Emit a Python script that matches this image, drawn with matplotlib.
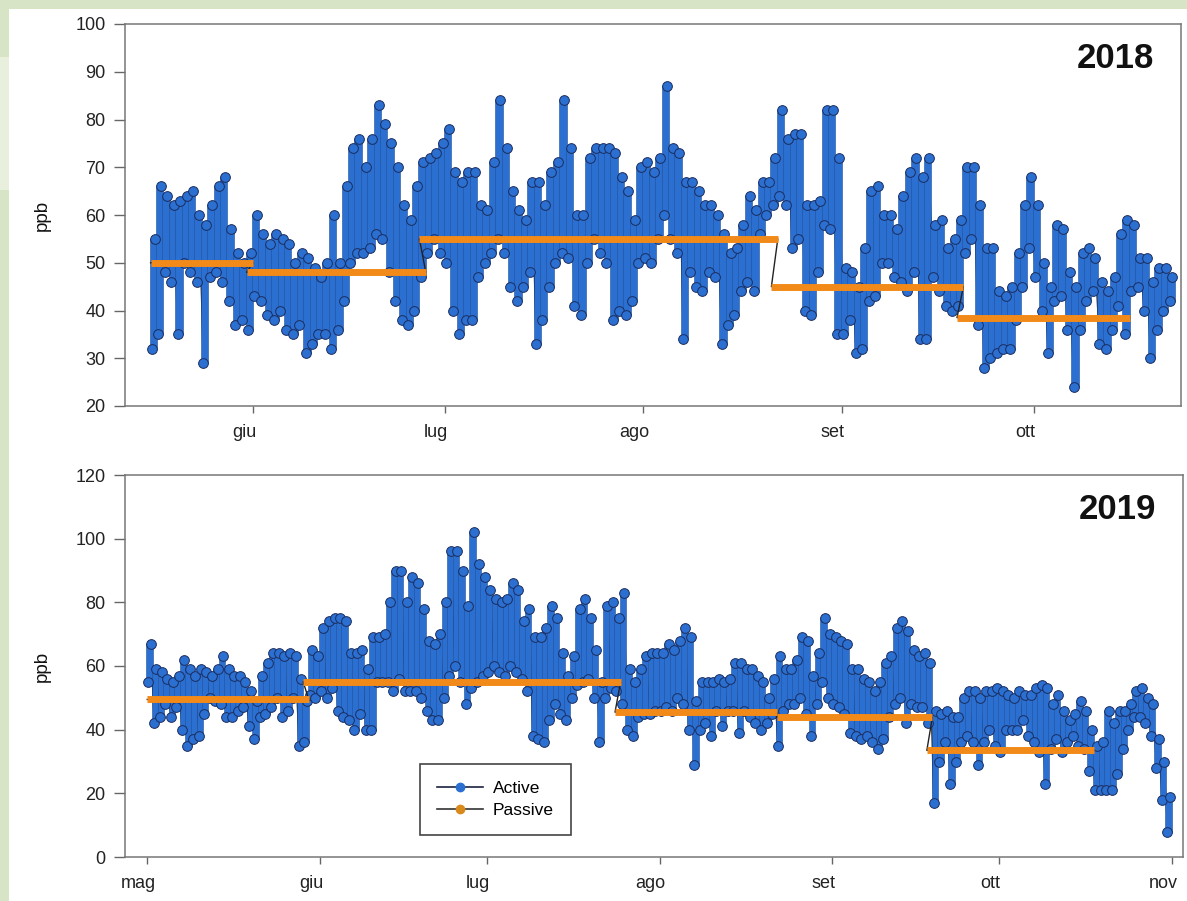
import numpy as np
import matplotlib
matplotlib.use("Agg")
import matplotlib.pyplot as plt
import matplotlib.dates as mdates
import matplotlib.transforms as mtransforms
from matplotlib.lines import Line2D
from matplotlib.patches import Rectangle

plt.rcParams['font.family'] = ['Liberation Sans', 'DejaVu Sans']

# Active sampler: daily minimum / maximum (ppb)
START_2018 = '2018-05-16'
max_2018 = [55, 66, 64, 62, 63, 64, 65, 60, 58, 62,
            66, 68, 57, 52, 50, 52, 60, 56, 54, 56,
            55, 54, 50, 52, 51, 49, 47, 50, 60, 50,
            66, 74, 76, 70, 76, 83, 79, 75, 70, 62,
            59, 66, 71, 72, 73, 75, 78, 69, 67, 69,
            69, 62, 61, 71, 84, 74, 65, 61, 59, 67,
            67, 62, 69, 71, 84, 74, 60, 60, 72, 74,
            74, 74, 73, 68, 65, 59, 70, 71, 69, 72,
            87, 74, 73, 67, 67, 65, 62, 62, 60, 56,
            52, 53, 58, 64, 61, 67, 67, 72, 82, 76,
            77, 77, 62, 62, 63, 82, 82, 72, 49, 48,
            45, 53, 65, 66, 60, 60, 57, 64, 69, 72,
            68, 72, 58, 59, 53, 55, 59, 70, 70, 62,
            53, 53, 44, 43, 45, 52, 62, 68, 62, 50,
            45, 58, 57, 48, 45, 52, 53, 51, 46, 44,
            47, 56, 59, 58, 51, 51, 46, 49, 49, 47]
min_2018 = [32, 35, 48, 46, 35, 50, 48, 46, 29, 47,
            48, 46, 42, 37, 38, 36, 43, 42, 39, 38,
            40, 36, 35, 37, 31, 33, 35, 35, 32, 36,
            42, 50, 52, 52, 53, 56, 55, 48, 42, 38,
            37, 40, 47, 52, 55, 52, 50, 40, 35, 38,
            38, 47, 50, 52, 55, 52, 45, 42, 45, 48,
            33, 38, 45, 50, 52, 51, 41, 39, 50, 55,
            52, 50, 38, 40, 39, 42, 50, 51, 50, 55,
            60, 55, 52, 34, 48, 45, 44, 48, 47, 33,
            37, 39, 44, 46, 44, 56, 60, 62, 64, 62,
            53, 55, 40, 39, 48, 58, 57, 35, 35, 38,
            31, 32, 42, 43, 50, 50, 47, 46, 44, 48,
            34, 34, 47, 44, 41, 40, 41, 52, 55, 37,
            28, 30, 31, 32, 32, 38, 45, 53, 47, 40,
            31, 42, 43, 36, 24, 36, 42, 44, 33, 32,
            36, 41, 35, 44, 45, 40, 30, 36, 40, 42]

START_2019 = '2019-05-01'
max_2019 = [67, 59, 58, 56, 55, 57, 62, 59, 57, 59,
            58, 57, 59, 63, 59, 57, 57, 55, 52, 49,
            57, 61, 64, 64, 63, 64, 63, 56, 49, 65,
            63, 72, 74, 75, 75, 74, 64, 64, 65, 59,
            69, 69, 70, 80, 90, 90, 80, 88, 86, 78,
            68, 67, 70, 80, 96, 96, 90, 79, 102, 92,
            88, 84, 81, 80, 81, 86, 84, 74, 78, 69,
            69, 72, 79, 75, 64, 57, 63, 78, 81, 75,
            65, 55, 79, 80, 75, 83, 59, 55, 59, 63,
            64, 64, 64, 67, 65, 68, 72, 69, 49, 55,
            55, 55, 56, 55, 56, 61, 61, 59, 59, 57,
            55, 50, 56, 63, 59, 59, 62, 69, 68, 57,
            64, 75, 70, 69, 68, 67, 59, 59, 56, 55,
            52, 55, 61, 63, 72, 74, 71, 65, 63, 64,
            61, 46, 45, 46, 44, 44, 50, 52, 52, 50,
            52, 52, 53, 52, 51, 50, 52, 51, 51, 53,
            54, 53, 48, 51, 46, 43, 45, 49, 46, 40,
            35, 36, 46, 42, 46, 46, 48, 52, 53, 50,
            48, 37, 30, 19]
min_2019 = [55, 42, 44, 48, 44, 47, 40, 35, 37, 38,
            45, 50, 49, 48, 44, 44, 46, 47, 41, 37,
            44, 45, 47, 50, 44, 46, 50, 35, 36, 51,
            50, 52, 50, 53, 46, 44, 43, 40, 45, 40,
            40, 55, 55, 55, 52, 56, 52, 52, 52, 50,
            46, 43, 43, 50, 57, 60, 55, 48, 53, 55,
            57, 58, 60, 58, 57, 60, 58, 56, 52, 38,
            37, 36, 43, 48, 45, 43, 50, 54, 55, 56,
            50, 36, 50, 53, 52, 48, 40, 38, 44, 45,
            45, 46, 46, 47, 46, 50, 48, 40, 29, 40,
            42, 38, 46, 41, 46, 46, 39, 46, 44, 42,
            40, 42, 45, 35, 46, 48, 48, 50, 45, 38,
            48, 55, 50, 48, 47, 45, 39, 38, 37, 38,
            36, 34, 37, 44, 48, 50, 42, 48, 47, 47,
            42, 17, 30, 36, 23, 30, 36, 38, 36, 29,
            36, 40, 35, 33, 40, 40, 40, 43, 38, 36,
            33, 23, 34, 37, 33, 36, 38, 35, 34, 27,
            21, 21, 21, 21, 26, 34, 40, 44, 44, 42,
            38, 28, 18, 8]

# Passive sampler: exposure periods and mean value (ppb)
passive_2018_start = ['2018-05-16', '2018-05-31', '2018-06-27', '2018-08-21', '2018-09-19']
passive_2018_end = ['2018-06-01', '2018-06-28', '2018-08-22', '2018-09-20', '2018-10-16']
passive_2018_val = [50, 48, 55, 45, 38.5]

passive_2019_start = ['2019-05-01', '2019-05-29', '2019-07-24', '2019-08-22', '2019-09-18']
passive_2019_end = ['2019-05-30', '2019-07-25', '2019-08-22', '2019-09-19', '2019-10-18']
passive_2019_val = [49.5, 55, 45.5, 44, 33.5]

month_labels = ['mag', 'giu', 'lug', 'ago', 'set', 'ott', 'nov']

BLUE = '#2b6fd1'
BLUE_EDGE = '#1b2d5e'
ORANGE = '#f28a1a'
GREEN_BG = '#d7e4c5'


def draw_panel(ax, start, mx, mn, p_start, p_end, p_val, year, ylim, yticks, xlim, months):
    mx = np.array(mx, dtype=float)
    mn = np.array(mn, dtype=float)
    day0 = mdates.date2num(np.datetime64(start))
    days = day0 + np.arange(len(mx))
    # night minimum (05h) then afternoon maximum (15h) for each day
    t = np.column_stack([days + 5 / 24, days + 15 / 24]).ravel()
    v = np.column_stack([mn, mx]).ravel()

    ax.plot(t, v, color='black', lw=0.9, zorder=1)
    # daily range covered by the hourly readings
    ax.bar(days + 10 / 24, mx - mn, bottom=mn, width=1.15, color=BLUE,
           edgecolor='#1f4f9a', linewidth=0.4, zorder=2)
    ax.plot(t, v, ls='none', marker='o', ms=7, mfc=BLUE, mec=BLUE_EDGE,
            mew=0.7, zorder=3)

    # passive: thin black connector + thick orange bands
    ps = mdates.date2num(np.array(p_start, dtype='datetime64[D]'))
    pe = mdates.date2num(np.array(p_end, dtype='datetime64[D]'))
    ax.plot(np.column_stack([ps, pe]).ravel(), np.repeat(p_val, 2),
            color='#222222', lw=1.0, zorder=4)
    ax.hlines(p_val, ps, pe, color=ORANGE, lw=5, zorder=5)

    ax.set_ylim(*ylim)
    ax.set_yticks(yticks)
    ax.set_xlim(mdates.date2num(np.datetime64(xlim[0])), mdates.date2num(np.datetime64(xlim[1])))
    tick_x = mdates.date2num(np.array(months[0], dtype='datetime64[D]'))
    ax.set_xticks(tick_x)
    ax.set_xticklabels([])
    # month names sit a little left of their tick, as in the original
    trans = mtransforms.blended_transform_factory(ax.transData, ax.transAxes) + \
        mtransforms.ScaledTranslation(-9 / 100, -18 / 100, ax.figure.dpi_scale_trans)
    for tx, lab in zip(tick_x, months[1]):
        ax.text(tx, 0, lab, transform=trans, ha='center', va='top',
                fontsize=13, color='#222222')
    ax.set_ylabel('ppb', fontsize=13.5, color='#111111')
    ax.yaxis.set_label_coords(-0.070, 0.5)
    ax.tick_params(axis='y', direction='out', length=8, width=1, color='#666666',
                   labelsize=13, labelcolor='#222222', pad=6)
    ax.tick_params(axis='x', direction='out', length=5, width=1, color='#666666')
    for sp in ax.spines.values():
        sp.set_color('#777777')
        sp.set_linewidth(1.1)
    ax.text(0.975, 0.91, year, transform=ax.transAxes, ha='right', va='center',
            fontsize=25, fontweight='bold', color='#111111')


fig = plt.figure(figsize=(11.87, 9.01), dpi=100)
fig.patch.set_facecolor(GREEN_BG)
fig.patches.append(Rectangle((9 / 1187, 0), 1, (901 - 9) / 901, transform=fig.transFigure,
                             facecolor='white', edgecolor='none', zorder=-5))
fig.patches.append(Rectangle((0, (901 - 190) / 901), 9 / 1187, 133 / 901, transform=fig.transFigure,
                             facecolor='#e8efdd', edgecolor='none', zorder=-5))

ax1 = fig.add_axes([125 / 1187, (901 - 406) / 901, (1181 - 125) / 1187, 382 / 901])
ax2 = fig.add_axes([125 / 1187, (901 - 857) / 901, (1183 - 125) / 1187, 382 / 901])

draw_panel(ax1, START_2018, max_2018, min_2018,
           passive_2018_start, passive_2018_end, passive_2018_val, '2018',
           (20, 100), range(20, 101, 10), ('2018-05-12', '2018-10-24'),
           (['2018-06-01', '2018-07-01', '2018-08-01', '2018-09-01', '2018-10-01'], month_labels[1:6]))
draw_panel(ax2, START_2019, max_2019, min_2019,
           passive_2019_start, passive_2019_end, passive_2019_val, '2019',
           (0, 120), range(0, 121, 20), ('2019-04-27', '2019-11-03'),
           (['2019-05-01', '2019-06-01', '2019-07-01', '2019-08-01', '2019-09-01',
             '2019-10-01', '2019-11-01'], month_labels))

handles = [Line2D([], [], color='#1a2340', lw=1.2, marker='o', ms=6, mfc=BLUE, mec=BLUE),
           Line2D([], [], color='#333333', lw=1.2, marker='o', ms=6, mfc='#d98a1c', mec='#d98a1c')]
leg = ax2.legend(handles, ['Active', 'Passive'], loc='lower left',
                 bbox_to_anchor=((420 - 125) / 1058, (857 - 835) / 382), borderaxespad=0,
                 fontsize=12.5, frameon=True, fancybox=False, framealpha=1,
                 handlelength=2.6, borderpad=1.0, labelspacing=0.35, handletextpad=0.6)
leg.get_frame().set_edgecolor('#444444')
leg.get_frame().set_linewidth(1.2)

fig.savefig('out.png', dpi=100, facecolor=fig.get_facecolor())
